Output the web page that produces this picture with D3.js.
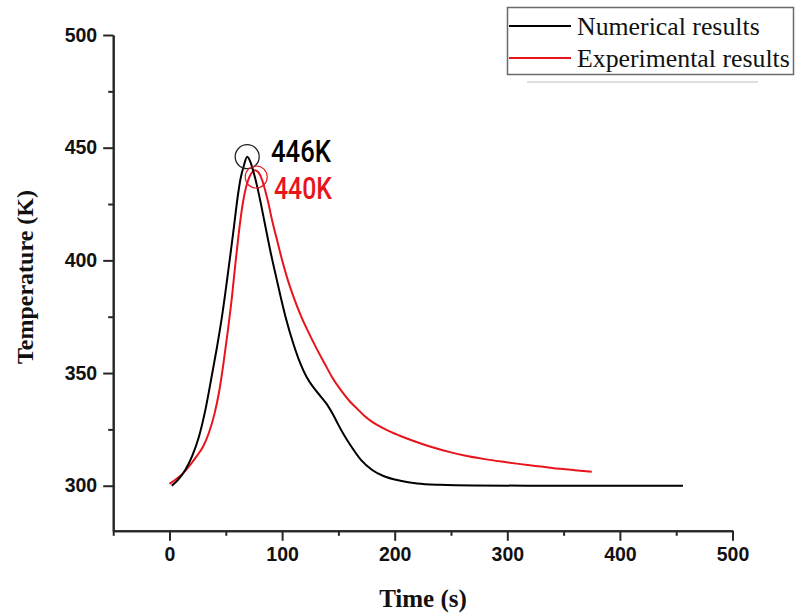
<!DOCTYPE html>
<html>
<head>
<meta charset="utf-8">
<script src="https://cdn.jsdelivr.net/npm/d3@7"></script>
<style>
  html, body { margin: 0; padding: 0; background: #fff; }
  svg { display: block; }
</style>
</head>
<body>
<svg id="chart" width="795" height="615"></svg>
<script>
// Temperature history: simulated vs. measured
const numericalTime = [2, 5, 9, 14, 20, 26, 32, 38, 42, 46.6, 50.5, 54.6, 57.5, 60.5, 63, 66, 69,
  72, 75, 78, 81, 85, 89, 95, 103, 110, 116, 122, 128, 134, 140, 145, 150, 155, 160, 170, 180, 190, 205,
  220, 240, 270, 350, 456];
const numericalTemp = [300, 301.3, 303.5, 307, 313, 321.5, 334, 350, 361, 375, 389, 404.5, 416, 428, 436, 442, 446,
  443.5, 438.5, 432.5, 425.5, 415.5, 405.5, 392, 375, 363, 354.5, 348, 343.5, 339.8, 336, 331.8, 327, 322.5, 318.5, 311.5, 307, 304.3, 302.2,
  301, 300.4, 300.1, 300, 300];

const experimentalTime = [0, 6, 12, 18, 24, 30, 35, 40, 44, 48, 52, 55.5, 58.4, 61.5, 65, 68, 71, 74, 76,
  79, 82, 85, 88, 91, 95, 99, 104, 110, 117, 124, 131, 138, 144, 152, 160, 167, 173, 180, 188, 196, 204,
  215, 232, 250, 262, 280, 295, 310, 325, 340, 360, 375];
const experimentalTemp = [300.8, 303, 305.5, 309, 313, 317.5, 323.5, 332, 341.5, 354.5, 369.5, 384, 398, 412, 425, 432.5, 437, 439.5, 440,
  439, 436, 431, 425, 418, 410, 402, 393, 384, 375, 367.5, 360.5, 354, 348.5, 342.5, 337.5, 334, 331, 328.3, 326, 324, 322.3,
  320.2, 317.3, 314.8, 313.4, 311.8, 310.7, 309.7, 308.8, 307.9, 306.9, 306.2];

const seriesNames = ["Numerical results", "Experimental results"];
const seriesColors = ["#000000", "#e8141c"];
const peakLabels = ["446K", "440K"];
const peakTimes = [69, 76];
const peakTemps = [446, 440];

const xMajorTicks = [0, 100, 200, 300, 400, 500];
const xMinorTicks = [-50, 50, 150, 250, 350, 450];
const yMajorTicks = [300, 350, 400, 450, 500];
const yMinorTicks = [325, 375, 425, 475];

const svg = d3.select("#chart");

const x = d3.scaleLinear().domain([-50, 500]).range([113.2, 732.5]);
const y = d3.scaleLinear().domain([280, 500]).range([530.8, 35]);

const axisColor = "#262626";
const tickFont = "'Liberation Sans', Arial, sans-serif";
const serif = "'Liberation Serif', 'Times New Roman', serif";

// minor ticks
const gxMinor = svg.append("g").attr("transform", `translate(0,${y(280)})`)
  .call(d3.axisBottom(x).tickValues(xMinorTicks).tickSize(5).tickFormat("").tickSizeOuter(0));
const gyMinor = svg.append("g").attr("transform", `translate(${x(-50)},0)`)
  .call(d3.axisLeft(y).tickValues(yMinorTicks).tickSize(5).tickFormat("").tickSizeOuter(0));

// major ticks + labels
const gx = svg.append("g").attr("transform", `translate(0,${y(280)})`)
  .call(d3.axisBottom(x).tickValues(xMajorTicks).tickSize(10).tickPadding(6).tickSizeOuter(0));
const gy = svg.append("g").attr("transform", `translate(${x(-50)},0)`)
  .call(d3.axisLeft(y).tickValues(yMajorTicks).tickSize(10).tickPadding(6).tickSizeOuter(0));

[gxMinor, gyMinor, gx, gy].forEach(g => {
  g.select(".domain").attr("stroke", axisColor).attr("stroke-width", 2);
  g.selectAll(".tick line").attr("stroke", axisColor).attr("stroke-width", 2);
});
[gx, gy].forEach(g => {
  g.selectAll(".tick text")
    .attr("fill", "#111")
    .style("font-family", tickFont)
    .style("font-weight", "bold")
    .style("font-size", "19.5px");
});

// axis titles
svg.append("text")
  .attr("x", 423).attr("y", 607)
  .attr("text-anchor", "middle")
  .style("font-family", serif).style("font-weight", "bold").style("font-size", "25px")
  .attr("fill", "#111")
  .text("Time (s)");

svg.append("text")
  .attr("transform", "translate(33,277) rotate(-90)")
  .attr("text-anchor", "middle")
  .style("font-family", serif).style("font-weight", "bold").style("font-size", "24px")
  .attr("fill", "#111")
  .text("Temperature (K)");

// curves
const line = d3.line().x(d => x(d[0])).y(d => y(d[1])).curve(d3.curveMonotoneX);
const numericalData = d3.zip(numericalTime, numericalTemp);
const experimentalData = d3.zip(experimentalTime, experimentalTemp);

svg.append("path").datum(experimentalData)
  .attr("fill", "none").attr("stroke", seriesColors[1]).attr("stroke-width", 2)
  .attr("stroke-linejoin", "round")
  .attr("d", line);
svg.append("path").datum(numericalData)
  .attr("fill", "none").attr("stroke", seriesColors[0]).attr("stroke-width", 2)
  .attr("stroke-linejoin", "round")
  .attr("d", line);

// peak markers
svg.append("circle")
  .attr("cx", x(peakTimes[0])).attr("cy", y(peakTemps[0]))
  .attr("r", 12).attr("fill", "none").attr("stroke", "#222").attr("stroke-width", 1.3);
svg.append("circle")
  .attr("cx", x(peakTimes[1] + 1)).attr("cy", y(peakTemps[1] - 3))
  .attr("r", 11).attr("fill", "none").attr("stroke", seriesColors[1]).attr("stroke-width", 1.1);

const peakFont = "Roboto, 'Noto Sans', sans-serif";
svg.append("text")
  .attr("x", 271).attr("y", 162)
  .attr("textLength", 60).attr("lengthAdjust", "spacingAndGlyphs")
  .style("font-family", peakFont).style("font-weight", 500).style("font-size", "31px")
  .attr("fill", "#000")
  .text(peakLabels[0]);
svg.append("text")
  .attr("x", 274).attr("y", 199)
  .attr("textLength", 58).attr("lengthAdjust", "spacingAndGlyphs")
  .style("font-family", peakFont).style("font-weight", 500).style("font-size", "31px")
  .attr("fill", seriesColors[1])
  .text(peakLabels[1]);

// legend
const legend = svg.append("g");
legend.append("line")
  .attr("x1", 527).attr("x2", 758).attr("y1", 82).attr("y2", 82)
  .attr("stroke", "#d4d4d4").attr("stroke-width", 1.5);
legend.append("rect")
  .attr("x", 507.5).attr("y", 7.5).attr("width", 286).attr("height", 67)
  .attr("fill", "#fff").attr("stroke", "#6a6a6a").attr("stroke-width", 1.5);

const legendRows = [26, 58];
seriesNames.forEach((name, i) => {
  legend.append("line")
    .attr("x1", 509).attr("x2", 571)
    .attr("y1", legendRows[i]).attr("y2", legendRows[i])
    .attr("stroke", seriesColors[i]).attr("stroke-width", 2);
  legend.append("text")
    .attr("x", 577).attr("y", legendRows[i] + 9)
    .style("font-family", serif).style("font-size", "25.8px")
    .attr("fill", "#111")
    .text(name);
});
</script>
</body>
</html>
